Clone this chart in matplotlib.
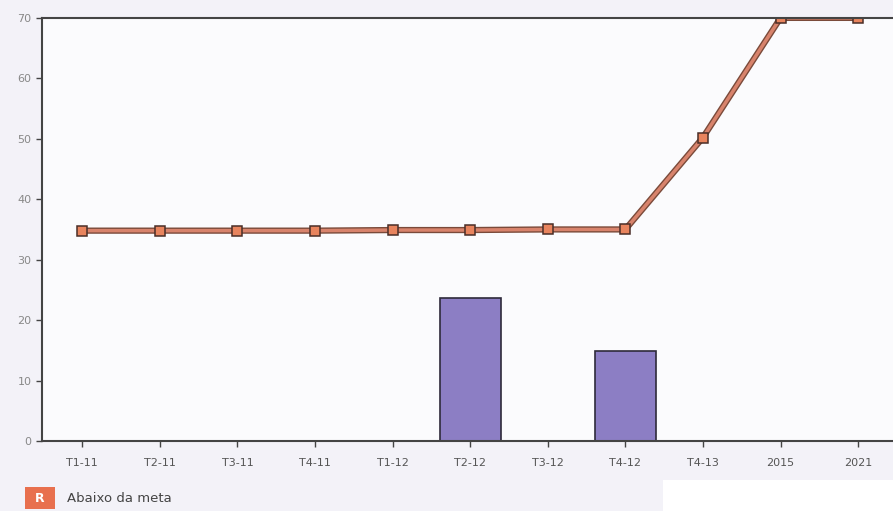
import matplotlib.pyplot as plt
from matplotlib.patches import Rectangle

categories = ["T1-11", "T2-11", "T3-11", "T4-11", "T1-12", "T2-12", "T3-12", "T4-12", "T4-13", "2015", "2021"]
meta_values = [34.8, 34.8, 34.8, 34.8, 34.9, 34.9, 35.0, 35.0, 50.2, 70, 70]
bar_values = [0, 0, 0, 0, 0, 23.7, 0, 14.9, 0, 0, 0]
y_ticks = [0, 10, 20, 30, 40, 50, 60, 70]

fig = plt.figure(figsize=(8.93, 5.11), dpi=100)
fig.patch.set_facecolor("#f3f2f8")
ax = fig.add_axes([0.047, 0.137, 0.953, 0.828])
ax.set_facecolor("#fbfbfd")

x = list(range(len(categories)))
ax.bar(x, bar_values, width=0.79, color="#8c7ec4", edgecolor="#2e2a3a", linewidth=1.2, zorder=2)

# meta line: dark outline with salmon core, square markers
ax.plot(x, meta_values, color="#7a4a3a", linewidth=4.5, zorder=3, solid_capstyle="butt")
ax.plot(x, meta_values, color="#d8836c", linewidth=2.5, zorder=4)
ax.plot(x, meta_values, linestyle="none", marker="s", markersize=7, markerfacecolor="#e8845e",
        markeredgecolor="#4a2e28", markeredgewidth=1.1, zorder=5)

ax.set_xlim(-0.52, 10.45)
ax.set_ylim(0, 70)
ax.set_xticks(x)
ax.set_xticklabels(categories, fontsize=8, color="#555555")
ax.set_yticks(y_ticks)
ax.set_yticklabels([str(v) for v in y_ticks], fontsize=8, color="#888888")
ax.tick_params(axis="both", length=4, width=1, color="#444444")
ax.tick_params(axis="x", pad=8)

for side in ["left", "bottom", "top"]:
    ax.spines[side].set_color("#444444")
    ax.spines[side].set_linewidth(1.5)
    ax.spines[side].set_zorder(6)
ax.spines["right"].set_visible(False)

# legend box
fig.patches.append(Rectangle((25 / 893, 2 / 511), 30 / 893, 22 / 511, transform=fig.transFigure,
                             facecolor="#e8704e", edgecolor="none"))
fig.text(40 / 893, 13 / 511, "R", color="white", fontsize=9, ha="center", va="center", fontweight="bold")
fig.text(67 / 893, 13 / 511, "Abaixo da meta", color="#444444", fontsize=9.5, ha="left", va="center")
fig.patches.append(Rectangle((663 / 893, 0), 230 / 893, 31 / 511, transform=fig.transFigure,
                             facecolor="white", edgecolor="none"))

fig.savefig("out.png", dpi=100)
